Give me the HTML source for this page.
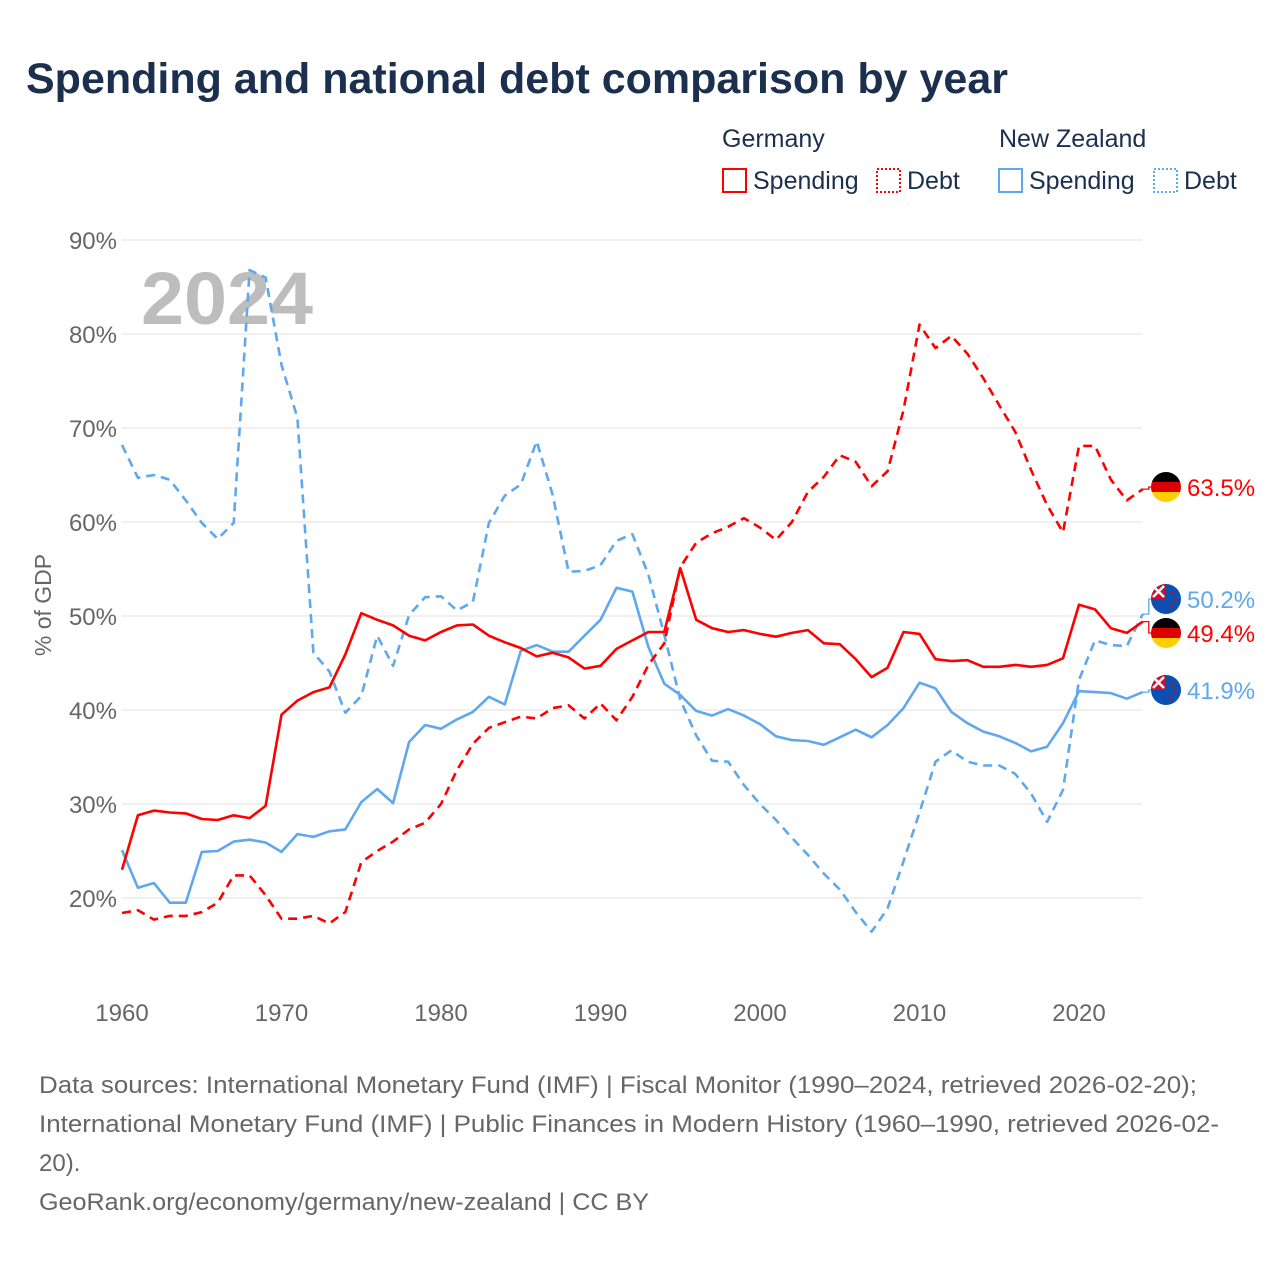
<!DOCTYPE html>
<html><head><meta charset="utf-8">
<style>
body{margin:0;background:#fff;font-family:"Liberation Sans",sans-serif;}
#wrap{position:relative;width:1280px;height:1280px;overflow:hidden;}
</style></head>
<body>
<div id="wrap">
<svg id="chart" width="1280" height="1280" xmlns="http://www.w3.org/2000/svg">
<text x="26" y="93" font-size="43" font-weight="bold" fill="#1b2f4e" font-family="Liberation Sans, sans-serif">Spending and national debt comparison by year</text>
<g font-size="25" fill="#1b2f4e">
<text x="722" y="147">Germany</text>
<text x="999" y="147">New Zealand</text>
<rect x="723" y="169" width="23" height="23" fill="none" stroke="#ff0000" stroke-width="2"/>
<text x="753" y="189">Spending</text>
<rect x="877" y="169" width="23" height="23" fill="none" stroke="#ff0000" stroke-width="2" stroke-dasharray="2,2"/>
<text x="907" y="189">Debt</text>
<rect x="999" y="169" width="23" height="23" fill="none" stroke="#5fa8ee" stroke-width="2"/>
<text x="1029" y="189">Spending</text>
<rect x="1154" y="169" width="23" height="23" fill="none" stroke="#5fa8ee" stroke-width="2" stroke-dasharray="2,2"/>
<text x="1184" y="189">Debt</text>
</g>
<g id="grid"></g>
<text x="141" y="324" font-size="74" font-weight="bold" fill="#bdbdbd" textLength="172" lengthAdjust="spacingAndGlyphs">2024</text>
<g id="series"></g>
<g id="labels"></g>
<text transform="translate(51,605) rotate(-90)" text-anchor="middle" font-size="23" fill="#666">% of GDP</text>
<g font-size="24" fill="#666">
<text x="39" y="1093" textLength="1158" lengthAdjust="spacingAndGlyphs">Data sources: International Monetary Fund (IMF) | Fiscal Monitor (1990–2024, retrieved 2026-02-20);</text>
<text x="39" y="1132" textLength="1180" lengthAdjust="spacingAndGlyphs">International Monetary Fund (IMF) | Public Finances in Modern History (1960–1990, retrieved 2026-02-</text>
<text x="39" y="1171">20).</text>
<text x="39" y="1210" textLength="610" lengthAdjust="spacingAndGlyphs">GeoRank.org/economy/germany/new-zealand | CC BY</text>
</g>
</svg>
</div>
<script>
const startYear = 1960;
const xTicks = [1960,1970,1980,1990,2000,2010,2020];
const yTicks = [20,30,40,50,60,70,80,90];
const deSpending = [23.0,28.8,29.3,29.1,29.0,28.4,28.3,28.8,28.5,29.8,39.5,41.0,41.9,42.4,45.9,50.3,49.6,49.0,47.9,47.4,48.3,49.0,49.1,47.9,47.2,46.6,45.7,46.1,45.6,44.4,44.7,46.5,47.4,48.3,48.3,55.1,49.6,48.7,48.3,48.5,48.1,47.8,48.2,48.5,47.1,47.0,45.4,43.5,44.5,48.3,48.1,45.4,45.2,45.3,44.6,44.6,44.8,44.6,44.8,45.5,51.2,50.7,48.7,48.2,49.4];
const deDebt = [18.4,18.7,17.7,18.1,18.1,18.5,19.5,22.4,22.4,20.3,17.8,17.8,18.1,17.3,18.5,23.8,25.0,26.0,27.3,28.0,30.0,33.6,36.4,38.1,38.7,39.3,39.1,40.2,40.5,39.1,40.7,38.9,41.4,44.8,47.1,55.2,57.8,58.8,59.5,60.4,59.4,58.1,60.0,63.2,64.8,67.1,66.4,63.8,65.4,71.9,81.0,78.5,79.8,77.9,75.3,72.4,69.6,65.5,61.8,58.9,68.1,68.1,64.5,62.3,63.5];
const nzSpending = [25.1,21.1,21.6,19.5,19.5,24.9,25.0,26.0,26.2,25.9,24.9,26.8,26.5,27.1,27.3,30.2,31.6,30.1,36.6,38.4,38.0,39.0,39.8,41.4,40.6,46.3,46.9,46.2,46.2,47.9,49.6,53.0,52.6,46.7,42.8,41.6,39.9,39.4,40.1,39.4,38.5,37.2,36.8,36.7,36.3,37.1,37.9,37.1,38.4,40.2,42.9,42.3,39.8,38.6,37.7,37.2,36.5,35.6,36.1,38.6,42.0,41.9,41.8,41.2,41.9];
const nzDebt = [68.2,64.7,65.0,64.5,62.3,59.9,58.2,59.9,86.8,86.0,76.7,71.1,46.1,44.1,39.7,41.5,47.9,44.7,50.1,52.0,52.1,50.6,51.5,59.9,62.8,64.0,68.6,62.9,54.7,54.8,55.4,58.0,58.7,54.4,48.0,41.1,37.3,34.6,34.5,32.0,30.0,28.3,26.4,24.6,22.6,20.9,18.5,16.4,18.9,23.9,29.1,34.5,35.7,34.5,34.1,34.1,33.2,31.1,28.1,31.5,43.2,47.4,46.9,46.8,50.2];
const endLabels = ["63.5%","50.2%","49.4%","41.9%"];

const NS="http://www.w3.org/2000/svg";
const RED="#ff0000", BLUE="#5fa8ee";
function x(yr){return 122+(yr-1960)*(1079-122)/60;}
function y(v){return 898-(v-20)*9.4;}
function mk(tag,attrs,parent){const e=document.createElementNS(NS,tag);for(const k in attrs)e.setAttribute(k,attrs[k]);parent.appendChild(e);return e;}
const grid=document.getElementById('grid');
yTicks.forEach(t=>{
  const l=mk('line',{x1:122,x2:1142,y1:y(t),y2:y(t),stroke:'#e6e6e6','stroke-width':1.3},grid);
  
  
  const tx=mk('text',{x:117,y:y(t)+9,'text-anchor':'end','font-size':24,fill:'#666'},grid);
  tx.textContent=t+'%';
  
  
});
xTicks.forEach(t=>{
  const tx=mk('text',{x:x(t),y:1021,'text-anchor':'middle','font-size':24,fill:'#666'},grid);
  tx.textContent=t;
  
  
});
const sg=document.getElementById('series');
function line(data,color,dash,name){
  const d=data.map((v,i)=>(i?'L':'M')+x(startYear+i).toFixed(1)+','+y(v).toFixed(1)).join(' ');
  const p=mk('path',{d:d,fill:'none',stroke:color,'stroke-width':2.6,'stroke-linejoin':'round'},sg);
  if(dash)p.setAttribute('stroke-dasharray','9,6');
  
  
}
line(nzDebt,BLUE,true,'line-nz-debt');
line(nzSpending,BLUE,false,'line-nz-spending');
line(deDebt,RED,true,'line-de-debt');
line(deSpending,RED,false,'line-de-spending');

const lg=document.getElementById('labels');
const lastX=x(startYear+deDebt.length-1);
const ends=[[deDebt,RED,487,'de',0],[nzDebt,BLUE,599,'nz',1],[deSpending,RED,633,'de',2],[nzSpending,BLUE,690,'nz',3]];
ends.forEach(([data,c,ly,flag,i])=>{
  const vy=y(data[data.length-1]);
  const cn=mk('path',{d:`M${lastX},${vy} L${lastX+6},${vy} L${lastX+6},${ly} L${lastX+10},${ly}`,fill:'none',stroke:c,'stroke-width':1.3},lg);
  
  
  const g=mk('g',{},lg);
  
  
  const cx=1166, r=15;
  const cid='clip'+i;
  const cp=mk('clipPath',{id:cid},g); mk('circle',{cx:cx,cy:ly,r:r},cp);
  const fg=mk('g',{'clip-path':`url(#${cid})`},g);
  if(flag==='de'){
    mk('rect',{x:cx-r,y:ly-r,width:30,height:10,fill:'#000'},fg);
    mk('rect',{x:cx-r,y:ly-5,width:30,height:10,fill:'#dd0000'},fg);
    mk('rect',{x:cx-r,y:ly+5,width:30,height:10,fill:'#ffce00'},fg);
  } else {
    mk('rect',{x:cx-r,y:ly-r,width:30,height:30,fill:'#0b4fb0'},fg);
    mk('rect',{x:cx-r,y:ly-r,width:15,height:15,fill:'#c8102e'},fg);
    mk('path',{d:`M${cx-13},${ly-13} L${cx-2},${ly-2} M${cx-2},${ly-13} L${cx-13},${ly-2}`,stroke:'#fff','stroke-width':2.5},fg);
    mk('circle',{cx:cx+6,cy:ly-6,r:1.3,fill:'#e00'},fg);
    mk('circle',{cx:cx+9,cy:ly+1,r:1.3,fill:'#e00'},fg);
    mk('circle',{cx:cx+5,cy:ly+8,r:1.3,fill:'#e00'},fg);
  }
  const t=mk('text',{x:1187,y:ly+9,'font-size':24,fill:c},lg);
  t.textContent=endLabels[i];
  
  
});
</script>
</body></html>
